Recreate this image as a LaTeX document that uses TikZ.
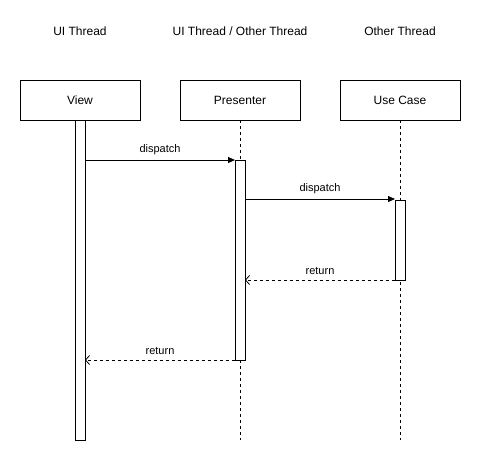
\documentclass[tikz,border=0pt]{standalone}
\usepackage{fontspec}
\setmainfont{Liberation Sans}
\usetikzlibrary{arrows.meta}
\begin{document}
\begin{tikzpicture}[x=1pt,y=-1pt,
  title/.style={font=\fontsize{12}{14}\selectfont, inner sep=0pt},
  actor/.style={draw, line width=0.8pt, minimum width=120pt, minimum height=40pt, font=\fontsize{12}{14}\selectfont, inner sep=0pt},
  actbar/.style={draw, line width=0.8pt, fill=white, minimum width=10pt, inner sep=0pt},
  lifeline/.style={dashed, dash pattern=on 3pt off 3pt, line width=0.8pt},
  call/.style={line width=0.8pt, -{Triangle[length=7pt,width=6pt]}},
  ret/.style={line width=0.8pt, dashed, dash pattern=on 3pt off 3pt, -{Straight Barb[length=4pt,width=9pt]}},
  msg/.style={font=\fontsize{11}{13}\selectfont, inner sep=0pt}
]
\useasboundingbox (0,0) rectangle (481,461);
% titles
\node[title] (t1) at (80,31) {UI Thread};
\node[title] (t2) at (240,31) {UI Thread / Other Thread};
\node[title] (t3) at (400,31) {Other Thread};
% actors
\node[actor] (view) at (80,100) {View};
\node[actor] (pres) at (240,100) {Presenter};
\node[actor] (uc) at (400,100) {Use Case};
% lifeline ends
\coordinate (presend) at (240,440);
\coordinate (ucend) at (400,440);
\draw[lifeline] (pres.south) -- (presend);
\draw[lifeline] (uc.south) -- (ucend);
% activation bars
\node[actbar, minimum height=320pt] (viewbar) at (80,280) {};
\node[actbar, minimum height=200pt] (presbar) at (240,260) {};
\node[actbar, minimum height=80pt] (ucbar) at (400,240) {};
% messages
\coordinate (m1s) at (85,160);
\coordinate (m1e) at (235,160);
\draw[call] (m1s) -- node[msg, above=5pt] (l1) {dispatch} (m1e);
\coordinate (m2s) at (245,199);
\coordinate (m2e) at (395,199);
\draw[call] (m2s) -- node[msg, above=5pt] (l2) {dispatch} (m2e);
\coordinate (r1s) at (395,280);
\coordinate (r1e) at (245,280);
\draw[ret] (r1s) -- node[msg, above=5pt] (l3) {return} (r1e);
\coordinate (r2s) at (235,360);
\coordinate (r2e) at (85,360);
\draw[ret] (r2s) -- node[msg, above=5pt] (l4) {return} (r2e);
\end{tikzpicture}
\end{document}
